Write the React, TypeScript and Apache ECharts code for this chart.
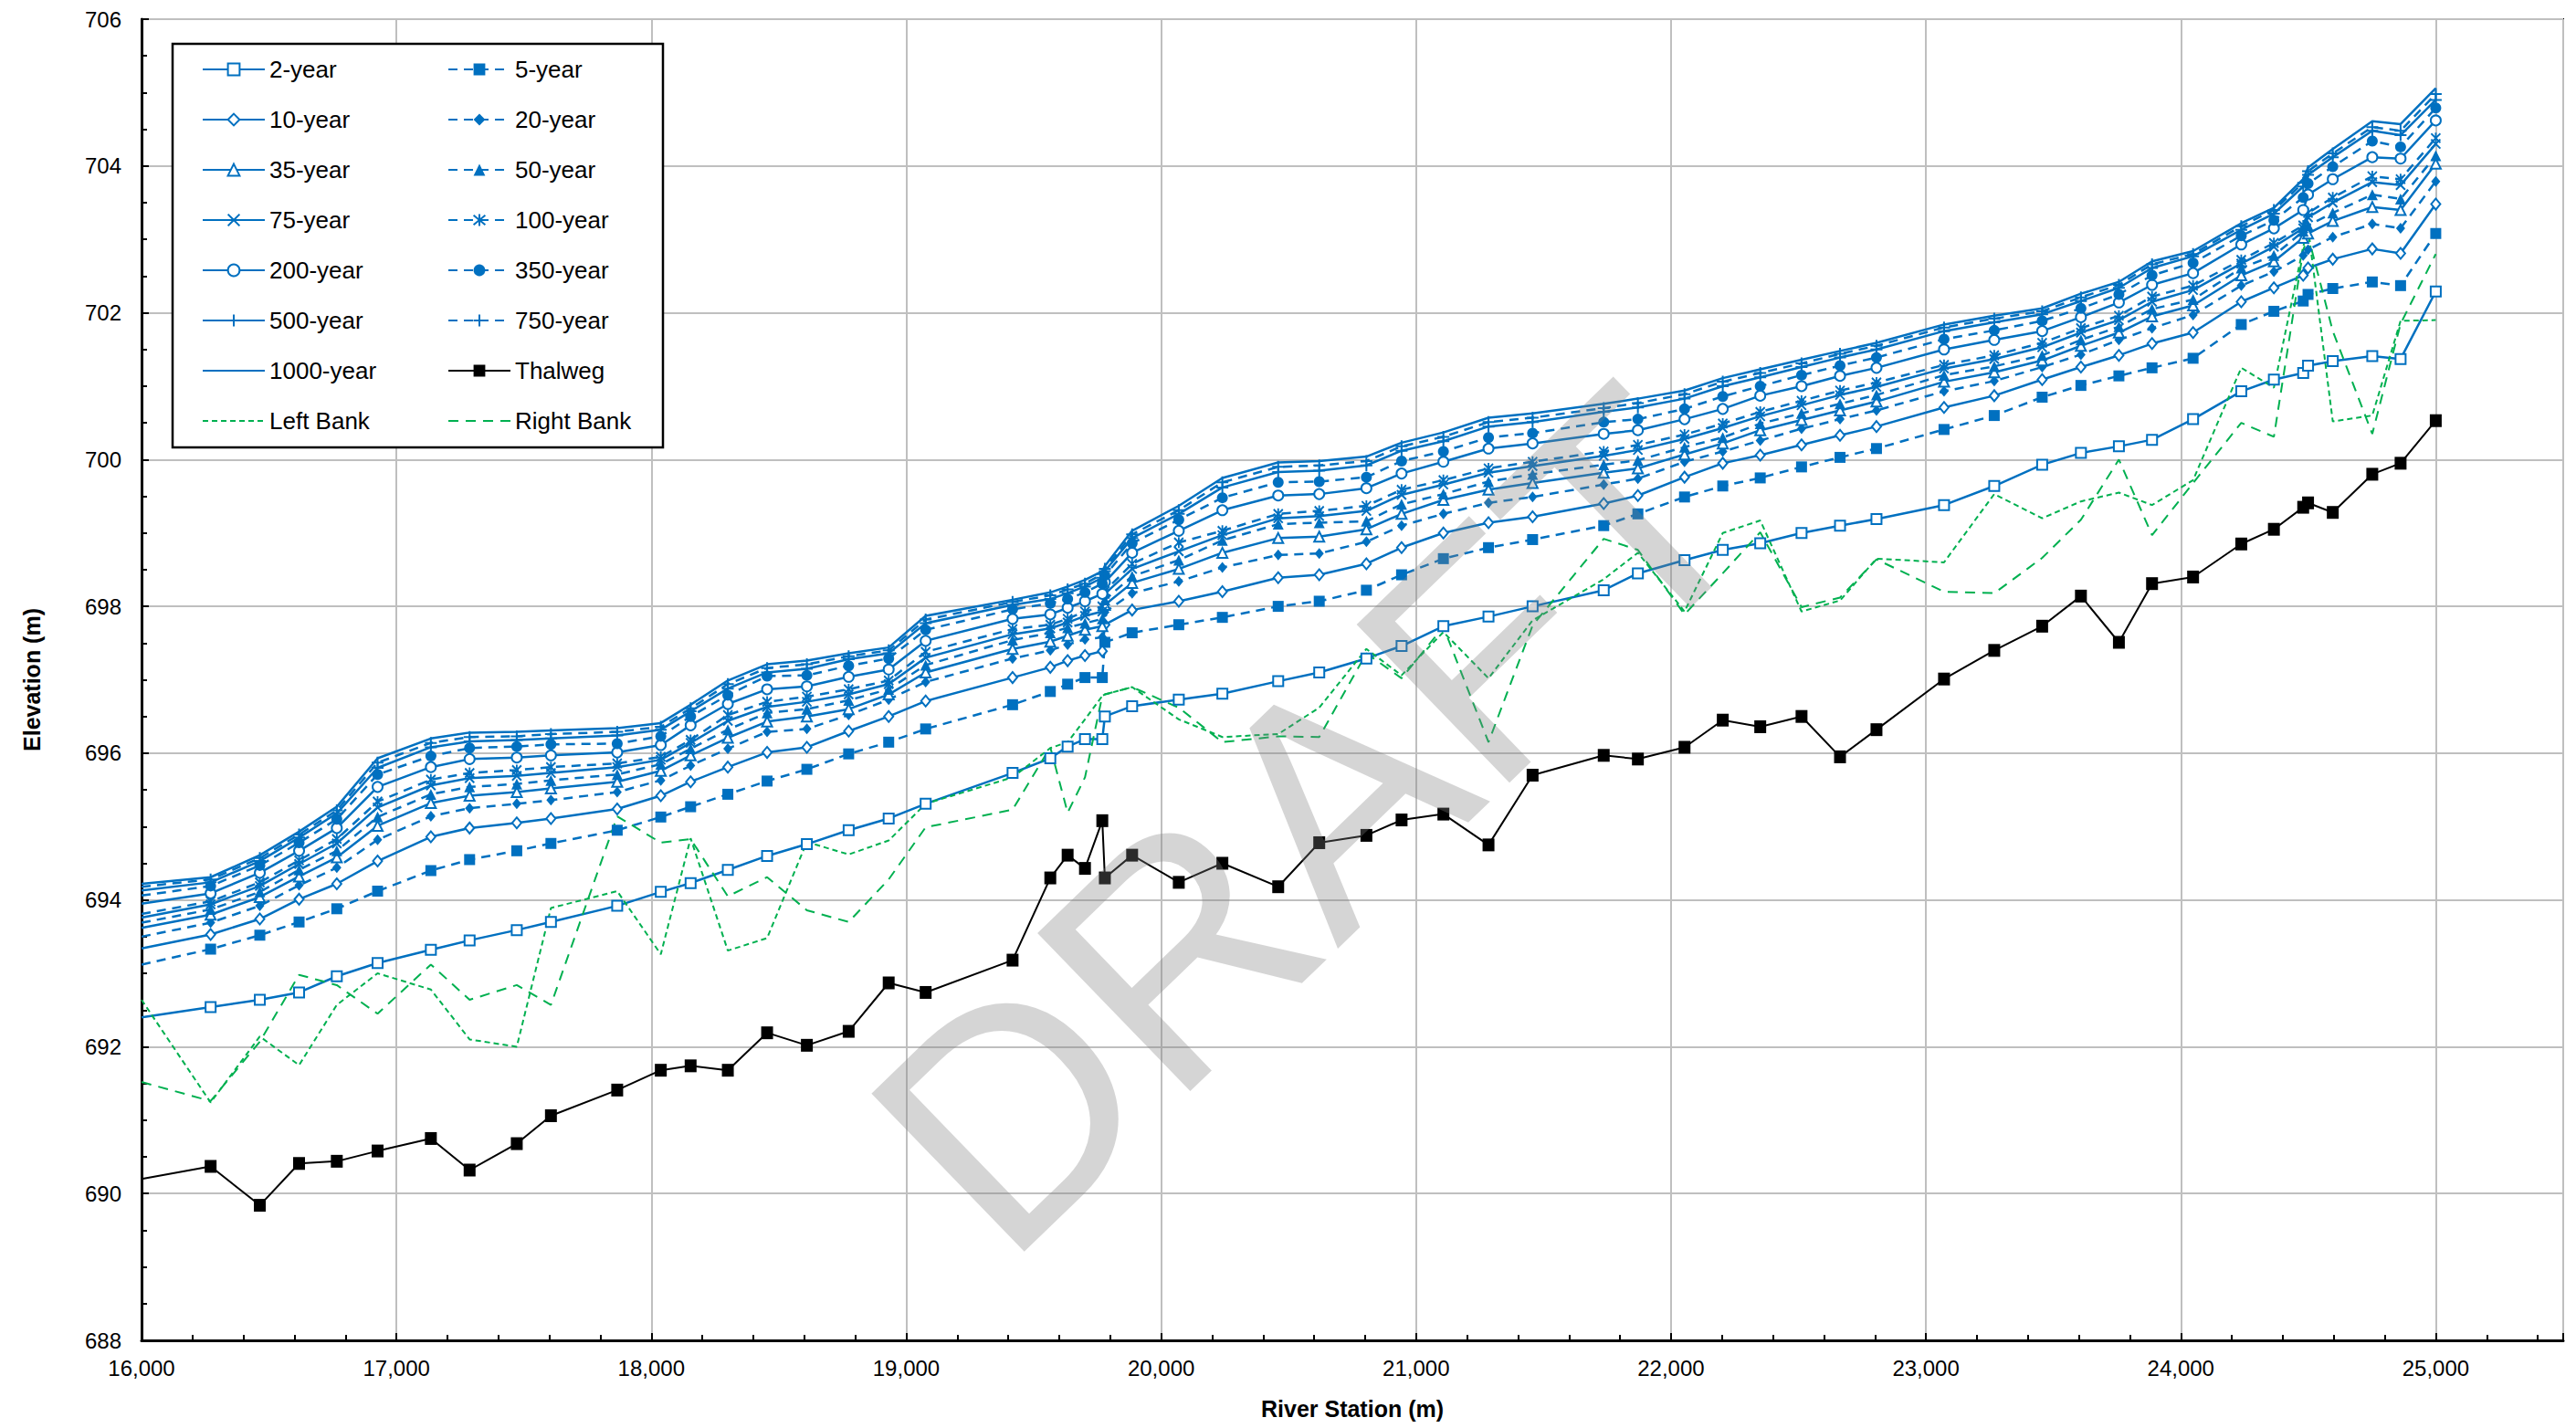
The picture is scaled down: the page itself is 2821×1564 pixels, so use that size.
import React, { useEffect, useRef } from "react";
import * as echarts from "echarts";

// River stations (m) shared by every profile
const stations = [
  16000, 16271, 16464, 16618, 16766, 16926, 17135, 17287, 17472, 17606,
  17866, 18037, 18154, 18300, 18454, 18610, 18774, 18931, 19076, 19417,
  19565, 19633, 19701, 19769, 19779, 19886, 20069, 20240, 20459, 20620,
  20805, 20943, 21107, 21284, 21457, 21736, 21870, 22053, 22203, 22350,
  22512, 22663, 22806, 23071, 23268, 23456, 23608, 23757, 23887, 24048,
  24237, 24365, 24480, 24499, 24596, 24751, 24862, 25000,
];

// Water surface elevations (m) by return period
const q2 = [
  692.40, 692.54, 692.64, 692.74, 692.96, 693.14, 693.32, 693.45, 693.59, 693.70,
  693.92, 694.11, 694.23, 694.41, 694.60, 694.76, 694.95, 695.11, 695.31, 695.73,
  695.93, 696.09, 696.19, 696.19, 696.50, 696.64, 696.73, 696.81, 696.98, 697.10,
  697.29, 697.46, 697.73, 697.86, 698.00, 698.22, 698.45, 698.63, 698.77, 698.86,
  699.00, 699.10, 699.19, 699.38, 699.64, 699.93, 700.09, 700.18, 700.27, 700.55,
  700.93, 701.09, 701.18, 701.28, 701.34, 701.41, 701.37, 702.29,
];
const q5 = [
  693.12, 693.33, 693.52, 693.70, 693.88, 694.12, 694.40, 694.55, 694.67, 694.77,
  694.95, 695.13, 695.27, 695.44, 695.62, 695.78, 695.99, 696.15, 696.33, 696.66,
  696.84, 696.94, 697.03, 697.03, 697.51, 697.64, 697.75, 697.85, 698.00, 698.07,
  698.22, 698.43, 698.65, 698.80, 698.91, 699.10, 699.26, 699.49, 699.64, 699.75,
  699.90, 700.03, 700.15, 700.41, 700.60, 700.85, 701.01, 701.14, 701.25, 701.38,
  701.84, 702.02, 702.16, 702.25, 702.33, 702.42, 702.37, 703.08,
];
const q10 = [
  693.34, 693.53, 693.74, 694.01, 694.22, 694.53, 694.86, 694.98, 695.05, 695.11,
  695.24, 695.42, 695.61, 695.81, 696.01, 696.08, 696.30, 696.50, 696.71, 697.03,
  697.17, 697.26, 697.33, 697.39, 697.75, 697.95, 698.07, 698.20, 698.39, 698.43,
  698.58, 698.80, 699.00, 699.14, 699.22, 699.40, 699.51, 699.76, 699.95, 700.06,
  700.20, 700.33, 700.45, 700.71, 700.87, 701.09, 701.26, 701.42, 701.58, 701.73,
  702.15, 702.34, 702.51, 702.61, 702.73, 702.87, 702.81, 703.48,
];
const q20 = [
  693.50, 693.69, 693.92, 694.20, 694.44, 694.82, 695.14, 695.25, 695.31, 695.36,
  695.47, 695.63, 695.83, 696.06, 696.29, 696.33, 696.52, 696.73, 696.97, 697.29,
  697.40, 697.48, 697.55, 697.58, 697.92, 698.18, 698.34, 698.53, 698.70, 698.72,
  698.88, 699.10, 699.26, 699.41, 699.49, 699.66, 699.74, 699.97, 700.11, 700.26,
  700.42, 700.55, 700.67, 700.93, 701.07, 701.26, 701.43, 701.63, 701.79, 701.97,
  702.37, 702.56, 702.78, 702.86, 703.03, 703.21, 703.15, 703.79,
];
const q35 = [
  693.62, 693.80, 694.04, 694.32, 694.58, 695.01, 695.32, 695.42, 695.47, 695.52,
  695.61, 695.76, 695.97, 696.21, 696.43, 696.50, 696.60, 696.80, 697.10, 697.42,
  697.52, 697.60, 697.68, 697.73, 698.02, 698.32, 698.51, 698.73, 698.93, 698.95,
  699.05, 699.26, 699.45, 699.59, 699.68, 699.82, 699.88, 700.07, 700.22, 700.40,
  700.54, 700.67, 700.79, 701.06, 701.19, 701.35, 701.55, 701.73, 701.95, 702.10,
  702.51, 702.70, 703.02, 703.08, 703.25, 703.44, 703.40, 704.03,
];
const q50 = [
  693.69, 693.87, 694.11, 694.41, 694.67, 695.13, 695.44, 695.54, 695.58, 695.63,
  695.71, 695.85, 696.06, 696.32, 696.55, 696.60, 696.72, 696.87, 697.20, 697.54,
  697.64, 697.71, 697.77, 697.83, 698.09, 698.41, 698.63, 698.90, 699.12, 699.14,
  699.16, 699.39, 699.53, 699.70, 699.80, 699.93, 699.99, 700.17, 700.30, 700.49,
  700.63, 700.76, 700.88, 701.15, 701.27, 701.42, 701.63, 701.81, 702.05, 702.18,
  702.61, 702.78, 703.11, 703.19, 703.36, 703.61, 703.55, 704.14,
];
const q75 = [
  693.76, 693.94, 694.19, 694.49, 694.77, 695.26, 695.56, 695.66, 695.69, 695.73,
  695.81, 695.91, 696.14, 696.44, 696.63, 696.70, 696.80, 696.94, 697.30, 697.62,
  697.70, 697.78, 697.87, 697.93, 698.17, 698.51, 698.75, 698.97, 699.20, 699.23,
  699.30, 699.52, 699.66, 699.82, 699.91, 700.05, 700.13, 700.28, 700.43, 700.59,
  700.74, 700.88, 700.99, 701.24, 701.37, 701.53, 701.73, 701.90, 702.15, 702.31,
  702.67, 702.90, 703.15, 703.30, 703.50, 703.78, 703.74, 704.30,
];
const q100 = [
  693.81, 693.98, 694.24, 694.54, 694.83, 695.34, 695.64, 695.73, 695.77, 695.81,
  695.86, 695.95, 696.18, 696.52, 696.70, 696.77, 696.87, 696.99, 697.38, 697.69,
  697.75, 697.83, 697.93, 698.00, 698.21, 698.58, 698.87, 699.03, 699.26, 699.30,
  699.37, 699.59, 699.72, 699.88, 699.97, 700.11, 700.20, 700.34, 700.49, 700.65,
  700.80, 700.94, 701.05, 701.29, 701.42, 701.59, 701.79, 701.96, 702.22, 702.37,
  702.72, 702.95, 703.19, 703.36, 703.57, 703.86, 703.82, 704.38,
];
const q200 = [
  693.95, 694.09, 694.37, 694.67, 694.98, 695.54, 695.81, 695.92, 695.94, 695.97,
  696.01, 696.11, 696.38, 696.67, 696.87, 696.91, 697.04, 697.14, 697.53, 697.83,
  697.89, 697.98, 698.07, 698.17, 698.33, 698.73, 699.03, 699.31, 699.51, 699.53,
  699.61, 699.81, 699.97, 700.15, 700.22, 700.35, 700.40, 700.55, 700.69, 700.87,
  701.00, 701.14, 701.25, 701.50, 701.63, 701.75, 701.94, 702.14, 702.38, 702.54,
  702.93, 703.15, 703.40, 703.61, 703.82, 704.12, 704.10, 704.62,
];
const q350 = [
  694.06, 694.19, 694.47, 694.78, 695.10, 695.71, 695.96, 696.07, 696.09, 696.12,
  696.13, 696.23, 696.50, 696.79, 697.05, 697.06, 697.19, 697.29, 697.68, 697.96,
  698.04, 698.10, 698.19, 698.31, 698.42, 698.86, 699.18, 699.48, 699.69, 699.70,
  699.76, 699.98, 700.11, 700.30, 700.36, 700.51, 700.55, 700.69, 700.86, 701.00,
  701.15, 701.28, 701.39, 701.64, 701.76, 701.89, 702.06, 702.25, 702.51, 702.68,
  703.05, 703.26, 703.57, 703.76, 703.99, 704.34, 704.26, 704.79,
];
const q500 = [
  694.13, 694.24, 694.53, 694.85, 695.18, 695.80, 696.08, 696.16, 696.18, 696.20,
  696.24, 696.32, 696.57, 696.88, 697.10, 697.15, 697.28, 697.36, 697.77, 698.02,
  698.10, 698.18, 698.27, 698.39, 698.48, 698.93, 699.26, 699.62, 699.83, 699.85,
  699.92, 700.12, 700.25, 700.45, 700.51, 700.65, 700.71, 700.83, 701.00, 701.12,
  701.26, 701.39, 701.50, 701.75, 701.87, 701.98, 702.16, 702.34, 702.61, 702.77,
  703.13, 703.35, 703.72, 703.88, 704.12, 704.48, 704.42, 704.90,
];
const q750 = [
  694.18, 694.28, 694.57, 694.89, 695.22, 695.87, 696.14, 696.22, 696.23, 696.26,
  696.29, 696.36, 696.61, 696.94, 697.16, 697.21, 697.32, 697.40, 697.82, 698.06,
  698.15, 698.23, 698.31, 698.44, 698.51, 698.98, 699.31, 699.69, 699.90, 699.92,
  699.98, 700.18, 700.31, 700.51, 700.57, 700.70, 700.77, 700.89, 701.06, 701.18,
  701.31, 701.44, 701.55, 701.80, 701.92, 702.02, 702.21, 702.38, 702.66, 702.80,
  703.18, 703.40, 703.77, 703.93, 704.17, 704.53, 704.48, 704.98,
];
const q1000 = [
  694.22, 694.31, 694.61, 694.93, 695.27, 695.93, 696.20, 696.28, 696.29, 696.31,
  696.34, 696.41, 696.66, 696.99, 697.21, 697.26, 697.36, 697.44, 697.87, 698.09,
  698.19, 698.27, 698.36, 698.48, 698.55, 699.03, 699.37, 699.75, 699.96, 699.98,
  700.04, 700.23, 700.37, 700.57, 700.63, 700.76, 700.83, 700.94, 701.11, 701.23,
  701.36, 701.48, 701.59, 701.84, 701.96, 702.06, 702.26, 702.42, 702.70, 702.84,
  703.22, 703.43, 703.82, 703.98, 704.23, 704.61, 704.57, 705.06,
];

// Channel bed and bank elevations (m)
const thalweg = [
  690.20, 690.37, 689.84, 690.41, 690.44, 690.58, 690.75, 690.32, 690.68, 691.06,
  691.41, 691.68, 691.74, 691.68, 692.19, 692.02, 692.21, 692.87, 692.74, 693.18,
  694.30, 694.61, 694.43, 695.08, 694.30, 694.61, 694.24, 694.50, 694.18, 694.78,
  694.88, 695.09, 695.17, 694.75, 695.70, 695.97, 695.92, 696.08, 696.45, 696.36,
  696.50, 695.95, 696.32, 697.01, 697.40, 697.73, 698.14, 697.51, 698.31, 698.40,
  698.85, 699.05, 699.35, 699.41, 699.28, 699.80, 699.95, 700.53,
];
const leftBank = [
  692.64, 691.24, 692.14, 691.75, 692.57, 693.00, 692.78, 692.10, 692.00, 693.89,
  694.12, 693.26, 694.84, 693.31, 693.48, 694.79, 694.62, 694.81, 695.31, 695.67,
  696.07, 696.15, 696.46, 696.78, 696.80, 696.90, 696.46, 696.22, 696.26, 696.62,
  697.42, 697.06, 697.65, 697.02, 697.81, 698.37, 698.73, 697.93, 699.00, 699.17,
  697.93, 698.08, 698.65, 698.60, 699.53, 699.20, 699.43, 699.55, 699.38, 699.72,
  701.25, 700.98, 702.90, 703.16, 700.52, 700.60, 701.89, 701.90,
];
const rightBank = [
  691.52, 691.26, 692.07, 692.98, 692.84, 692.45, 693.12, 692.64, 692.84, 692.57,
  695.14, 694.78, 694.83, 694.05, 694.31, 693.86, 693.70, 694.28, 694.99, 695.23,
  696.08, 695.19, 695.67, 696.78, 696.80, 696.90, 696.62, 696.15, 696.23, 696.22,
  697.36, 697.02, 697.72, 696.15, 697.74, 698.92, 698.77, 697.89, 698.45, 699.01,
  697.99, 698.12, 698.64, 698.20, 698.18, 698.66, 699.18, 700.00, 698.97, 699.68,
  700.50, 700.31, 702.85, 703.05, 701.75, 700.35, 701.85, 702.80,
];

// Axis ranges and ticks
const xMin = 16000;
const xMax = 25500;
const xStep = 1000;
const yMin = 688;
const yMax = 706;
const yStep = 2;

const legendColumnLeft = ["2-year", "10-year", "35-year", "75-year", "200-year", "500-year", "1000-year", "Left Bank"];
const legendColumnRight = ["5-year", "20-year", "50-year", "100-year", "350-year", "750-year", "Thalweg", "Right Bank"];

const BLUE = "#0070C0";
const GREEN = "#00B050";
const FONT = "'Liberation Sans', Arial, Helvetica, sans-serif";

const CROSS = "path://M0,0L10,10M10,0L0,10";
const STAR = "path://M0,1L10,11M10,1L0,11M5,0L5,12";
const PLUS = "path://M5,0L5,10M0,5L10,5";

type Profile = {
  name: string;
  values: number[];
  symbol: string;
  size: number | number[];
  dashed: boolean;
  stroked?: boolean;
};

const profiles: Profile[] = [
  { name: "2-year", values: q2, symbol: "emptyRect", size: 11, dashed: false },
  { name: "5-year", values: q5, symbol: "rect", size: 12, dashed: true },
  { name: "10-year", values: q10, symbol: "emptyDiamond", size: [10, 12], dashed: false },
  { name: "20-year", values: q20, symbol: "diamond", size: [10, 12], dashed: true },
  { name: "35-year", values: q35, symbol: "emptyTriangle", size: 11, dashed: false },
  { name: "50-year", values: q50, symbol: "triangle", size: 12, dashed: true },
  { name: "75-year", values: q75, symbol: CROSS, size: 10, dashed: false, stroked: true },
  { name: "100-year", values: q100, symbol: STAR, size: [10, 12], dashed: true, stroked: true },
  { name: "200-year", values: q200, symbol: "emptyCircle", size: 11, dashed: false },
  { name: "350-year", values: q350, symbol: "circle", size: 12, dashed: true },
  { name: "500-year", values: q500, symbol: PLUS, size: 13, dashed: false, stroked: true },
  { name: "750-year", values: q750, symbol: PLUS, size: 13, dashed: true, stroked: true },
  { name: "1000-year", values: q1000, symbol: "none", size: 0, dashed: false },
];

// First station sits on the left axis and carries no marker
function toPoints(values: number[]) {
  return stations.map((s, i) =>
    i === 0 ? { value: [s, values[i]], symbol: "none" } : [s, values[i]]
  );
}

function buildOption() {
  const series: any[] = profiles.map((p) => ({
    name: p.name,
    type: "line",
    data: toPoints(p.values),
    symbol: p.symbol,
    symbolSize: p.size,
    showSymbol: p.symbol !== "none",
    lineStyle: { color: BLUE, width: 2.5, type: p.dashed ? [10, 7] : "solid" },
    itemStyle: p.stroked
      ? { color: BLUE, borderColor: BLUE, borderWidth: 2 }
      : { color: BLUE },
    emphasis: { disabled: true },
  }));

  series.push({
    name: "Thalweg",
    type: "line",
    data: toPoints(thalweg),
    symbol: "rect",
    symbolSize: [13, 14],
    lineStyle: { color: "#000", width: 2 },
    itemStyle: { color: "#000" },
    emphasis: { disabled: true },
  });
  series.push({
    name: "Left Bank",
    type: "line",
    data: stations.map((s, i) => [s, leftBank[i]]),
    symbol: "none",
    lineStyle: { color: GREEN, width: 2, type: [6, 4] },
    itemStyle: { color: GREEN },
    emphasis: { disabled: true },
  });
  series.push({
    name: "Right Bank",
    type: "line",
    data: stations.map((s, i) => [s, rightBank[i]]),
    symbol: "none",
    lineStyle: { color: GREEN, width: 2, type: [11, 8] },
    itemStyle: { color: GREEN },
    emphasis: { disabled: true },
  });

  const noMarker = new Set(["1000-year", "Left Bank", "Right Bank"]);
  const legendData = (names: string[]) =>
    names.map((n) =>
      noMarker.has(n)
        ? { name: n, itemStyle: { opacity: 0 } }
        : { name: n }
    );
  const legendBase = {
    orient: "vertical",
    top: 61,
    itemWidth: 68,
    itemHeight: 16,
    itemGap: 25,
    padding: 0,
    selectedMode: false,
    textStyle: { fontSize: 26, fontFamily: FONT, color: "#000", lineHeight: 30 },
  };

  return {
    animation: false,
    backgroundColor: "#fff",
    grid: {
      left: 155,
      right: 14,
      top: 21,
      bottom: 96,
      show: true,
      borderColor: "#000",
      borderWidth: 2,
      backgroundColor: "transparent",
    },
    xAxis: {
      type: "value",
      min: xMin,
      max: xMax,
      interval: xStep,
      name: "River Station (m)",
      nameLocation: "middle",
      nameGap: 62,
      nameTextStyle: { fontSize: 25, fontWeight: "bold", fontFamily: FONT, color: "#000" },
      axisLine: { show: true, lineStyle: { color: "#000", width: 3 } },
      axisTick: { show: true, inside: true, length: 8, lineStyle: { color: "#000", width: 2 } },
      minorTick: { show: true, splitNumber: 5, length: 6, lineStyle: { color: "#000", width: 2 } },
      splitLine: { show: true, lineStyle: { color: "#BFBFBF", width: 2 } },
      axisLabel: {
        fontSize: 24,
        fontFamily: FONT,
        color: "#000",
        margin: 18,
        formatter: (v: number) => (v > 25000 ? "" : v.toLocaleString("en-US")),
      },
    },
    yAxis: {
      type: "value",
      min: yMin,
      max: yMax,
      interval: yStep,
      name: "Elevation (m)",
      nameLocation: "middle",
      nameGap: 108,
      nameTextStyle: { fontSize: 25, fontWeight: "bold", fontFamily: FONT, color: "#000" },
      axisLine: { show: true, lineStyle: { color: "#000", width: 3 } },
      axisTick: { show: true, inside: true, length: 8, lineStyle: { color: "#000", width: 2 } },
      minorTick: { show: true, splitNumber: 4, length: 6, lineStyle: { color: "#000", width: 2 } },
      splitLine: { show: true, lineStyle: { color: "#BFBFBF", width: 2 } },
      axisLabel: { fontSize: 24, fontFamily: FONT, color: "#000", margin: 22 },
    },
    legend: [
      { ...legendBase, left: 221, data: legendData(legendColumnLeft) },
      { ...legendBase, left: 490, data: legendData(legendColumnRight) },
    ],
    graphic: [
      {
        type: "rect",
        z: 3,
        shape: { x: 189, y: 48, width: 537, height: 442 },
        style: { fill: "#fff", stroke: "#000", lineWidth: 2.5 },
      },
      {
        type: "text",
        z: 50,
        x: 1436,
        y: 898,
        rotation: (44 * Math.PI) / 180,
        silent: true,
        style: {
          text: "DRAFT",
          font: `350px ${FONT}`,
          fill: "rgba(128,128,128,0.33)",
          align: "center",
          verticalAlign: "middle",
        },
      },
    ],
    series,
  };
}

export default function App() {
  const ref = useRef<HTMLDivElement>(null);
  useEffect(() => {
    if (!ref.current) return;
    const chart = echarts.init(ref.current, undefined, { renderer: "svg" });
    chart.setOption(buildOption() as any);
    return () => chart.dispose();
  }, []);
  return (
    <div
      ref={ref}
      style={{ position: "absolute", left: 0, top: 0, width: 2821, height: 1564 }}
    />
  );
}
